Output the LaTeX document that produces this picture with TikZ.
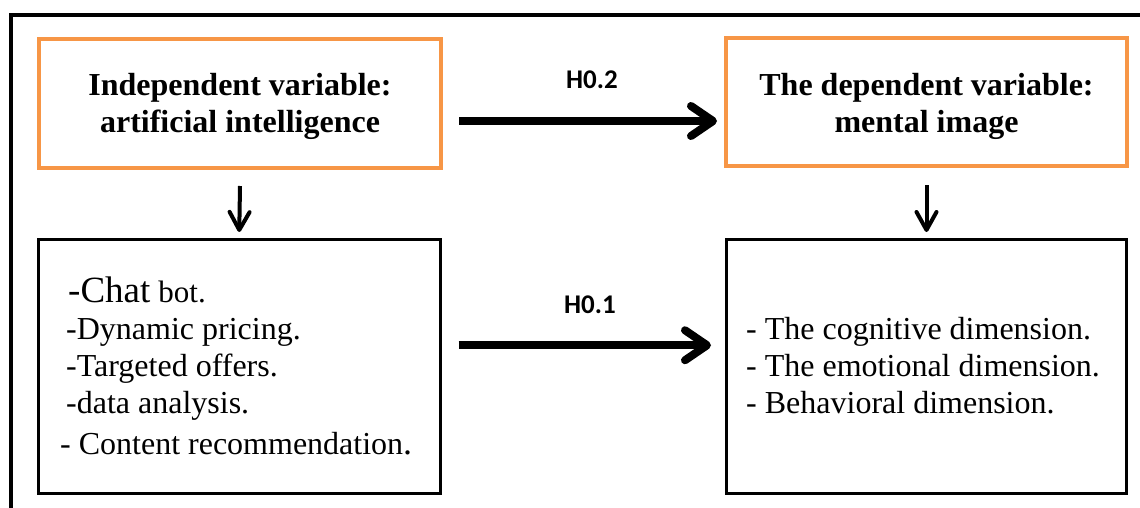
\documentclass[tikz,border=0pt]{standalone}
\usepackage{fontspec}
\setmainfont{Liberation Serif}
\newfontfamily\calib{Carlito}
\usetikzlibrary{arrows.meta}
\definecolor{boxorange}{HTML}{F79646}
\tikzset{
  orangebox/.style={draw=boxorange, line width=4pt, rectangle, inner sep=0pt},
  blackbox/.style={draw=black, line width=3pt, rectangle, inner sep=0pt},
  headtext/.style={align=center, inner sep=0pt, font=\fontsize{32}{37}\selectfont\bfseries},
  listtext/.style={align=left, inner sep=0pt, anchor=north west, font=\fontsize{32}{37}\selectfont},
  hlabel/.style={inner sep=0pt, font=\calib\fontsize{27}{30}\selectfont\bfseries},
  bigarrow/.style={line width=8pt, -{Straight Barb[length=22pt,width=30pt,round]},
    preaction={draw=black!45, opacity=0.35, transform canvas={shift={(2pt,-3pt)}}}},
  smallarrow/.style={line width=4pt, -{Straight Barb[length=18pt,width=20pt,round]}}
}
\begin{document}
\begin{tikzpicture}[x=1pt,y=-1pt]
\useasboundingbox (0,0) rectangle (1140,508);
\clip (0,0) rectangle (1140,508);
\fill[white] (0,0) rectangle (1140,508);
% outer frame
\draw[line width=4.5pt] (11,15) rectangle (1180,560);
% boxes
\node[orangebox, minimum width=402pt, minimum height=129pt] (b1) at (240,103.5) {};
\node[orangebox, minimum width=401pt, minimum height=128pt] (b2) at (926.5,102) {};
\node[blackbox, minimum width=401.5pt, minimum height=253.5pt] (b3) at (239.25,366.25) {};
\node[blackbox, minimum width=400pt, minimum height=253.5pt] (b4) at (926.5,366.25) {};
% headings
\node[headtext] (t1) at (240,106) {Independent variable:\\artificial intelligence};
\node[headtext] (t2) at (926.5,106) {The dependent variable:\\mental image};
% lists
\node[listtext] (l1) at (60,277) {\hspace*{8pt}{\fontsize{37}{37}\selectfont -Chat} {\fontsize{31}{37}\selectfont bot.}\\
\hspace*{6pt}-Dynamic pricing.\\
\hspace*{6pt}-Targeted offers.\\
\hspace*{6pt}-data analysis.\\[4pt]
- Content recommendation{\fontsize{36}{37}\selectfont .}};
\node[listtext] (l2) at (746,317) {- The cognitive dimension.\\
- The emotional dimension.\\
- Behavioral dimension.};
% hypothesis labels
\node[hlabel] (h2) at (592,80) {H0.2};
\node[hlabel] (h1) at (590,305) {H0.1};
% arrows
\draw[bigarrow] ([xshift=16pt,yshift=-17.5pt]b1.east) -- ([xshift=-7pt,yshift=-19pt]b2.west);
\draw[bigarrow] ([xshift=17pt,yshift=21pt]b3.east) -- ([xshift=-14pt,yshift=21pt]b4.west);
\draw[smallarrow] ([yshift=-16pt]b1.south) -- ([yshift=6pt]b3.north);
\draw[smallarrow] ([yshift=-17pt]b2.south) -- ([yshift=6pt]b4.north);
\end{tikzpicture}
\end{document}
